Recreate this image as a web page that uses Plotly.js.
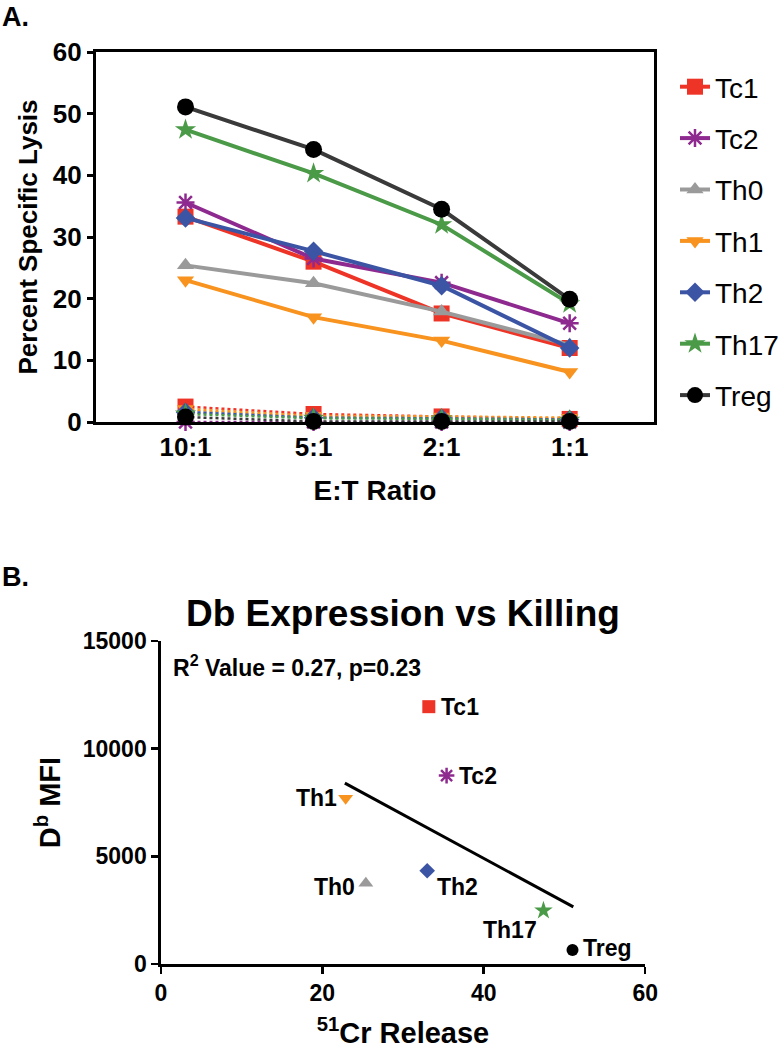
<!DOCTYPE html>
<html>
<head>
<meta charset="utf-8">
<script src="https://cdn.plot.ly/plotly-3.0.1.min.js"></script>
<style>html,body{margin:0;padding:0;background:#fff;}#chart{width:784px;height:1050px;}</style>
</head>
<body>
<div id="chart"></div>
<script>
// ---------- Data: panel A ----------
const ratios = ['10:1', '5:1', '2:1', '1:1'];
const groups = ['Tc1', 'Tc2', 'Th0', 'Th1', 'Th2', 'Th17', 'Treg'];
const lysisTc1  = [33.3, 26.0, 17.6, 12.0];
const lysisTc2  = [35.6, 26.5, 22.6, 16.0];
const lysisTh0  = [25.4, 22.5, 17.9, 12.5];
const lysisTh1  = [23.0, 17.0, 13.2, 8.1];
const lysisTh2  = [33.1, 27.7, 22.1, 12.0];
const lysisTh17 = [47.4, 40.3, 32.0, 19.2];
const lysisTreg = [51.1, 44.2, 34.5, 19.9];
// controls (dotted lines near zero)
const ctrlTc1  = [2.5, 1.3, 0.9, 0.5];
const ctrlTc2  = [0.0, 0.0, 0.0, 0.0];
const ctrlTh0  = [1.8, 0.8, 0.6, 0.4];
const ctrlTh1  = [2.1, 1.0, 0.9, 0.7];
const ctrlTh2  = [1.6, 0.7, 0.6, 0.4];
const ctrlTh17 = [1.3, 0.6, 0.5, 0.3];
const ctrlTreg = [0.8, 0.1, 0.1, 0.1];
const yTicksA = [0, 10, 20, 30, 40, 50, 60];

// ---------- Data: panel B ----------
const crRelease = [33.2, 35.4, 25.4, 22.9, 33.0, 47.4, 51.0];
const dbMFI     = [11950, 8750, 3750, 7700, 4330, 2480, 650];
const fitX = [22.8, 51.1];
const fitY = [8400, 2650];
const xTicksB = [0, 20, 40, 60];
const yTicksB = [0, 5000, 10000, 15000];
const yTickTextB = ['0', '5000', '10000', '15000'];
const statText = 'R<sup>2</sup> Value = 0.27, p=0.23';

// ---------- Styles ----------
const colors  = ['#EE3427', '#8E2A8F', '#9A9A9A', '#F7931E', '#3C54A4', '#4A9A47', '#000000'];
const lineCol = ['#EE3427', '#8E2A8F', '#9A9A9A', '#F7931E', '#3C54A4', '#4A9A47', '#3A3A3A'];
const symbols = ['square', 'asterisk-open', 'triangle-up', 'triangle-down', 'diamond', 'star', 'circle'];
const sizesA  = [16, 15, 15, 15, 15, 16, 17];
const sizesB  = [13, 13, 13, 13, 12, 14, 12];
const FONT = 'Liberation Sans, Arial, Helvetica, sans-serif';

const lysis = [lysisTc1, lysisTc2, lysisTh0, lysisTh1, lysisTh2, lysisTh17, lysisTreg];
const ctrl  = [ctrlTc1, ctrlTc2, ctrlTh0, ctrlTh1, ctrlTh2, ctrlTh17, ctrlTreg];

function markerOf(i, size) {
  const m = {symbol: symbols[i], size: size, color: colors[i]};
  if (symbols[i] === 'asterisk-open') m.line = {color: colors[i], width: 2.5};
  else m.line = {width: 0};
  return m;
}

const traces = [];
// dotted control lines
groups.forEach((g, i) => {
  traces.push({
    x: ratios, y: ctrl[i], type: 'scatter', mode: 'lines+markers',
    xaxis: 'x', yaxis: 'y', showlegend: false, cliponaxis: false,
    line: {color: lineCol[i], width: 2.5, dash: 'dot'},
    marker: markerOf(i, sizesA[i]), hoverinfo: 'skip'
  });
});
// main lines
groups.forEach((g, i) => {
  traces.push({
    x: ratios, y: lysis[i], type: 'scatter', mode: 'lines+markers', name: g,
    legendgroup: g, xaxis: 'x', yaxis: 'y', cliponaxis: false,
    line: {color: lineCol[i], width: 4},
    marker: markerOf(i, sizesA[i])
  });
});
// panel B points
groups.forEach((g, i) => {
  traces.push({
    x: [crRelease[i]], y: [dbMFI[i]], type: 'scatter', mode: 'markers',
    xaxis: 'x2', yaxis: 'y2', showlegend: false, cliponaxis: false,
    marker: markerOf(i, sizesB[i])
  });
});
traces.push({
  x: fitX, y: fitY, type: 'scatter', mode: 'lines', xaxis: 'x2', yaxis: 'y2',
  showlegend: false, line: {color: '#000', width: 3}
});

// label placement for panel B
const labelPos = {
  Tc1:  {xanchor: 'left',  xshift: 10,  yshift: 0},
  Tc2:  {xanchor: 'left',  xshift: 10,  yshift: 0},
  Th0:  {xanchor: 'right', xshift: -9,  yshift: -4},
  Th1:  {xanchor: 'right', xshift: -7,  yshift: 0},
  Th2:  {xanchor: 'left',  xshift: 8,   yshift: -16},
  Th17: {xanchor: 'right', xshift: -4,  yshift: -19},
  Treg: {xanchor: 'left',  xshift: 8,   yshift: 2}
};

const annotations = [
  {text: '<b>A.</b>', xref: 'paper', yref: 'paper', x: 0, y: 1, xanchor: 'left', yanchor: 'top',
   showarrow: false, font: {family: FONT, size: 27, color: '#000'}, yshift: 0},
  {text: '<b>B.</b>', xref: 'paper', yref: 'paper', x: 0, y: 1 - 560 / 1050, xanchor: 'left', yanchor: 'top',
   showarrow: false, font: {family: FONT, size: 27, color: '#000'}},
  {text: '<b>' + statText + '</b>', xref: 'x2', yref: 'y2', x: 0, y: 15000, xanchor: 'left', yanchor: 'top',
   xshift: 10, yshift: -8, showarrow: false, font: {family: FONT, size: 23, color: '#000'}},
  {text: '<b>Db Expression vs Killing</b>', xref: 'paper', yref: 'paper',
   x: (161 + 646) / 2 / 784, y: 1 - 613 / 1050, xanchor: 'center', yanchor: 'middle',
   showarrow: false, font: {family: FONT, size: 37, color: '#000'}}
];
groups.forEach((g, i) => {
  const p = labelPos[g];
  annotations.push({
    text: '<b>' + g + '</b>', xref: 'x2', yref: 'y2', x: crRelease[i], y: dbMFI[i],
    xanchor: p.xanchor, yanchor: 'middle', xshift: p.xshift, yshift: p.yshift,
    showarrow: false, font: {family: FONT, size: 23, color: '#000'}
  });
});

const layout = {
  width: 784, height: 1050,
  margin: {l: 0, r: 0, t: 0, b: 0},
  paper_bgcolor: '#fff', plot_bgcolor: '#fff',
  font: {family: FONT, color: '#000'},
  showlegend: true,
  legend: {
    x: 676 / 784, y: 1 - 62 / 1050, xanchor: 'left', yanchor: 'top',
    font: {family: FONT, size: 28, color: '#000'},
    tracegroupgap: 12, bgcolor: 'rgba(0,0,0,0)'
  },
  xaxis: {
    domain: [96 / 784, 655 / 784], anchor: 'y', type: 'category',
    range: [-0.7, 3.66], showline: true, linewidth: 3, linecolor: '#000', mirror: true,
    ticks: '', showgrid: false, zeroline: false,
    tickfont: {family: FONT, size: 26, color: '#000', weight: 'bold'},
    title: {text: '<b>E:T Ratio</b>', font: {family: FONT, size: 28, color: '#000'}, standoff: 20}
  },
  yaxis: {
    domain: [1 - 422 / 1050, 1 - 52 / 1050], anchor: 'x',
    range: [0, 60], tickvals: yTicksA,
    showline: true, linewidth: 3, linecolor: '#000', mirror: true,
    ticks: 'outside', ticklen: 6, tickwidth: 3, tickcolor: '#000',
    showgrid: false, zeroline: false,
    tickfont: {family: FONT, size: 26, color: '#000', weight: 'bold'},
    title: {text: '<b>Percent Specific Lysis</b>', font: {family: FONT, size: 26, color: '#000'}, standoff: 8}
  },
  xaxis2: {
    domain: [161 / 784, 646 / 784], anchor: 'y2',
    range: [0, 60], tickvals: xTicksB,
    showline: true, linewidth: 2.5, linecolor: '#000',
    ticks: 'outside', ticklen: 7, tickwidth: 2.5, tickcolor: '#000',
    showgrid: false, zeroline: false,
    tickfont: {family: FONT, size: 23, color: '#000', weight: 'bold'},
    title: {text: '<b><sup>51</sup>Cr Release</b>', font: {family: FONT, size: 29, color: '#000'}, standoff: 18}
  },
  yaxis2: {
    domain: [1 - 964 / 1050, 1 - 641 / 1050], anchor: 'x2',
    range: [0, 15000], tickvals: yTicksB, ticktext: yTickTextB,
    showline: true, linewidth: 2.5, linecolor: '#000',
    ticks: 'outside', ticklen: 7, tickwidth: 2.5, tickcolor: '#000',
    showgrid: false, zeroline: false,
    tickfont: {family: FONT, size: 23, color: '#000', weight: 'bold'},
    title: {text: '<b>D<sup>b</sup> MFI</b>', font: {family: FONT, size: 29, color: '#000'}, standoff: 14}
  },
  annotations: annotations
};

Plotly.newPlot('chart', traces, layout, {displayModeBar: false, staticPlot: true});
</script>
</body>
</html>
